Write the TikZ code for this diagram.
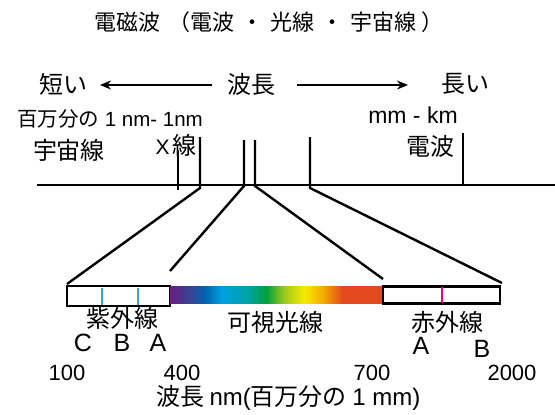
\documentclass[tikz,border=0pt]{standalone}
\usepackage{fontspec}
\setmainfont{Liberation Sans}
\newfontfamily\jp{Noto Sans CJK JP}
\usetikzlibrary{arrows.meta}
\definecolor{sp0}{HTML}{6B1D80}
\definecolor{sp1}{HTML}{2B4D9B}
\definecolor{sp2}{HTML}{0061AD}
\definecolor{sp3}{HTML}{00A0E2}
\definecolor{sp4}{HTML}{00A3A3}
\definecolor{sp5}{HTML}{00A03C}
\definecolor{sp6}{HTML}{9CC81E}
\definecolor{sp7}{HTML}{F7EB00}
\definecolor{sp8}{HTML}{F3A800}
\definecolor{sp9}{HTML}{E4481E}
\definecolor{uvcyan}{HTML}{29ABE2}
\definecolor{irmag}{HTML}{E6007E}
\pgfdeclarehorizontalshading{spectrum}{100bp}{color(0bp)=(sp0); color(25bp)=(sp0); color(30.8bp)=(sp1); color(33.1bp)=(sp2); color(37.1bp)=(sp3); color(43.4bp)=(sp4); color(47.6bp)=(sp5); color(51.7bp)=(sp6); color(56.4bp)=(sp7); color(61.1bp)=(sp8); color(65.5bp)=(sp9); color(75bp)=(sp9); color(100bp)=(sp9)}
\begin{document}
\begin{tikzpicture}[x=1pt,y=-1pt,line width=2.4pt,
  ttl/.style={inner sep=0pt,font=\jp\fontsize{22}{26}\selectfont},
  jl/.style={inner sep=0pt,font=\jp\fontsize{24}{28}\selectfont},
  sm/.style={inner sep=0pt,font=\fontsize{20.5}{24}\selectfont},
  lat/.style={inner sep=0pt,font=\fontsize{23}{27}\selectfont},
  num/.style={inner sep=0pt,font=\fontsize{22}{26}\selectfont},
  abc/.style={inner sep=0pt,font=\fontsize{25}{29}\selectfont},
  arr/.style={line width=2.2pt,-{Stealth[length=11pt,width=9pt]}},
  boxst/.style={draw,line width=2.4pt,inner sep=0pt,fill=white},
  tick/.style={line width=2.4pt}]
\useasboundingbox (0,0) rectangle (555,415);
% title
\node[ttl] (title) at (269,22) {電磁波\hspace{8pt}（電波\hspace{7pt}・\hspace{7pt}光線\hspace{7pt}・\hspace{7pt}宇宙線\hspace{5pt}）};
% wavelength row
\node[jl] (short) at (63,84) {短い};
\node[jl] (wl) at (251,84) {波長};
\node[jl] (long) at (465,84) {長い};
\coordinate (la1) at (212,85);
\coordinate (la2) at (100,85);
\coordinate (ra1) at (297,85);
\coordinate (ra2) at (408,85);
\draw[arr] (la1) -- (la2);
\draw[arr] (ra1) -- (ra2);
\node[sm,anchor=base] (gam) at (110,126) {{\jp 百万分の} 1 nm- 1nm};
\node[lat,anchor=base] (mmkm) at (413,123) {mm - km};
\node[jl] (cosmic) at (69,150) {宇宙線};
\node[inner sep=0pt] (xray) at (176,145) {{\fontsize{21}{25}\selectfont X} {\jp\fontsize{24}{28}\selectfont 線}};
\node[jl] (radio) at (430,146) {電波};
% axis
\coordinate (ax1) at (37,185);
\coordinate (ax2) at (555,185);
\draw[tick] (ax1) -- (ax2);
% boxes
\node[boxst,minimum width=103pt,minimum height=19.5pt] (uv) at (118.5,296) {};
\node[shade,shading=spectrum,inner sep=0pt,minimum width=213pt,minimum height=17pt] (vis) at (276.5,295) {};
\node[boxst,minimum width=117pt,minimum height=17pt] (ir) at (441.5,295) {};
\coordinate (c1t) at (102,287.5); \coordinate (c1b) at (102,304.5);
\coordinate (c2t) at (138,287.5); \coordinate (c2b) at (138,304.5);
\coordinate (m1t) at (442,287); \coordinate (m1b) at (442,303);
\draw[uvcyan,line width=2.2pt] (c1t) -- (c1b);
\draw[uvcyan,line width=2.2pt] (c2t) -- (c2b);
\draw[irmag,line width=2.2pt] (m1t) -- (m1b);
% ticks and fan lines
\coordinate (v1t) at (178,150); \coordinate (v1b) at (178,190);
\coordinate (v2t) at (200,137); \coordinate (v2b) at (200,188);
\coordinate (v3t) at (244,140); \coordinate (v3b) at (244,186);
\coordinate (v4t) at (255,140); \coordinate (v4b) at (255,186);
\coordinate (v5t) at (310,137); \coordinate (v5b) at (310,188);
\coordinate (v6t) at (463,133); \coordinate (v6b) at (463,185);
\coordinate (f2) at (67,284);
\coordinate (f3) at (170,271);
\coordinate (f4) at (383,279);
\coordinate (f5) at (502,283);
\draw[tick] (v1t) -- (v1b);
\draw[tick] (v2t) -- (v2b) -- (f2);
\draw[tick] (v3t) -- (v3b) -- (f3);
\draw[tick] (v4t) -- (v4b) -- (f4);
\draw[tick] (v5t) -- (v5b) -- (f5);
\draw[tick] (v6t) -- (v6b);
% band labels
\node[jl] (uvl) at (122,318) {紫外線};
\node[jl] (visl) at (275,322) {可視光線};
\node[jl] (irl) at (447,322) {赤外線};
\node[abc] (uvc) at (83,343) {C};
\node[abc] (uvb) at (122,343) {B};
\node[abc] (uva) at (158,343) {A};
\node[abc] (ira) at (421,346) {A};
\node[abc] (irb) at (482,349) {B};
\node[num] (n100) at (67,373) {100};
\node[num] (n400) at (182,373) {400};
\node[num] (n700) at (372,373) {700};
\node[num] (n2000) at (512,373) {2000};
\node[jl,anchor=west] (unit) at (155,398) {波長 {\rmfamily nm(}百万分の {\rmfamily 1 mm)}};
\end{tikzpicture}
\end{document}
